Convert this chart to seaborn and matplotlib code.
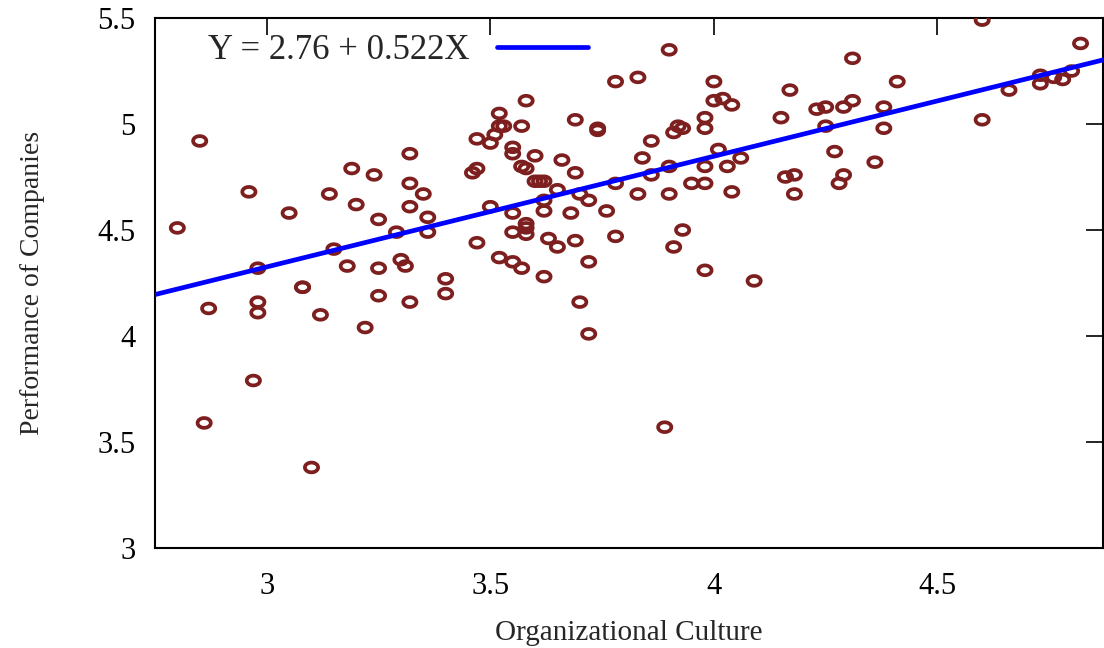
import matplotlib
matplotlib.use("Agg")
import matplotlib.pyplot as plt
import numpy as np
import pandas as pd
import seaborn as sns
from matplotlib.path import Path

# values
culture = [2.80, 2.85, 2.86, 2.87, 2.96, 2.97, 2.98, 2.98, 2.98, 3.05,
           3.08, 3.08, 3.10, 3.12, 3.14, 3.15, 3.18, 3.19, 3.20, 3.22,
           3.24, 3.25, 3.25, 3.25, 3.29, 3.30, 3.31, 3.32, 3.32, 3.32,
           3.32, 3.35, 3.36, 3.36, 3.40, 3.40, 3.46, 3.47, 3.47, 3.47,
           3.50, 3.50, 3.51, 3.52, 3.52, 3.52, 3.53, 3.55, 3.55, 3.55,
           3.55, 3.55, 3.57, 3.57, 3.57, 3.58, 3.58, 3.58, 3.58, 3.58,
           3.60, 3.60, 3.61, 3.62, 3.62, 3.62, 3.62, 3.63, 3.65, 3.65,
           3.66, 3.68, 3.69, 3.69, 3.69, 3.70, 3.70, 3.72, 3.72, 3.72,
           3.74, 3.74, 3.76, 3.78, 3.78, 3.78, 3.83, 3.83, 3.84, 3.86,
           3.86, 3.89, 3.90, 3.90, 3.90, 3.91, 3.91, 3.92, 3.93, 3.93,
           3.95, 3.98, 3.98, 3.98, 3.98, 3.98, 4.00, 4.00, 4.01, 4.02,
           4.03, 4.04, 4.04, 4.06, 4.09, 4.15, 4.17, 4.16, 4.18, 4.18,
           4.23, 4.25, 4.25, 4.27, 4.28, 4.29, 4.29, 4.31, 4.31, 4.36,
           4.38, 4.38, 4.41, 4.60, 4.60, 4.66, 4.73, 4.73, 4.76, 4.78,
           4.80, 4.82]
performance = [4.51, 4.92, 3.59, 4.13, 4.68, 3.79, 4.32, 4.16, 4.11, 4.58,
               4.23, 4.23, 3.38, 4.10, 4.67, 4.41, 4.33, 4.79, 4.62, 4.04,
               4.76, 4.55, 4.32, 4.19, 4.49, 4.36, 4.33, 4.86, 4.72, 4.61,
               4.16, 4.67, 4.56, 4.49, 4.27, 4.20, 4.77, 4.79, 4.93, 4.44,
               4.91, 4.61, 4.95, 5.05, 4.37, 4.99, 4.99, 4.89, 4.86, 4.58,
               4.49, 4.35, 4.80, 4.99, 4.32, 5.11, 4.79, 4.53, 4.51, 4.48,
               4.85, 4.73, 4.73, 4.73, 4.28, 4.64, 4.59, 4.46, 4.69, 4.42,
               4.83, 4.58, 5.02, 4.45, 4.77, 4.16, 4.67, 4.35, 4.01, 4.64,
               4.97, 4.98, 4.59, 4.47, 5.20, 4.72, 5.22, 4.67, 4.84, 4.92,
               4.76, 3.57, 5.35, 4.67, 4.80, 4.42, 4.96, 4.99, 4.98, 4.50,
               4.72, 5.03, 4.98, 4.80, 4.72, 4.31, 5.20, 5.11, 4.88, 5.12,
               4.80, 5.09, 4.68, 4.84, 4.26, 5.03, 5.16, 4.75, 4.76, 4.67,
               5.07, 5.08, 4.99, 4.87, 4.72, 4.76, 5.08, 5.11, 5.31, 4.82,
               5.08, 4.98, 5.20, 5.49, 5.02, 5.16, 5.23, 5.19, 5.22, 5.21,
               5.25, 5.38]

intercept = 2.76
slope = 0.522
fit_label = "Y = 2.76 + 0.522X"

x_ticks = [3, 3.5, 4, 4.5]
x_tick_labels = ["3", "3.5", "4", "4.5"]
y_ticks = [3, 3.5, 4, 4.5, 5, 5.5]
y_tick_labels = ["3", "3.5", "4", "4.5", "5", "5.5"]
x_range = (2.75, 4.87)
y_range = (3.0, 5.5)

sns.set_style("white")
plt.rcParams["font.family"] = ["Liberation Serif", "DejaVu Serif"]

df = pd.DataFrame({"culture": culture, "performance": performance})

# slightly wide ellipse, like the stretched gnuplot circles
t = np.linspace(0, 2 * np.pi, 60)
ring = Path(np.column_stack([1.35 * np.cos(t), np.sin(t)]), closed=True)

fig = plt.figure(figsize=(11.04, 6.48), dpi=100)
ax = fig.add_axes([0.1404, 0.1543, 0.8586, 0.8179])

sns.scatterplot(data=df, x="culture", y="performance", ax=ax, marker=ring,
                s=90, facecolors="none", edgecolor="#7d1f1f", linewidth=2.7,
                legend=False, zorder=3)

line_x = np.array(x_range)
fit = pd.DataFrame({"x": line_x, "y": intercept + slope * line_x})
sns.lineplot(data=fit, x="x", y="y", ax=ax, color="#0000ff", linewidth=3.4,
             label=fit_label, zorder=4)

ax.set_xlim(*x_range)
ax.set_ylim(*y_range)
ax.set_xticks(x_ticks, x_tick_labels)
ax.set_yticks(y_ticks, y_tick_labels)
ax.tick_params(direction="in", length=12, width=1.2, top=True, right=True,
               labelsize=22, colors="black", pad=14)
ax.tick_params(axis="x", pad=17)
for sp in ax.spines.values():
    sp.set_color("black")
    sp.set_linewidth(1.5)

ax.set_xlabel("Organizational Culture", fontsize=21, labelpad=14)
ax.set_ylabel("Performance of Companies", fontsize=20, labelpad=38)

ax.legend(loc="upper left", bbox_to_anchor=(0.056, 0.970), markerfirst=False,
          frameon=False, fontsize=25, handlelength=2.6, handletextpad=0.8,
          borderpad=0, borderaxespad=0)

fig.savefig("out.png", dpi=100)
